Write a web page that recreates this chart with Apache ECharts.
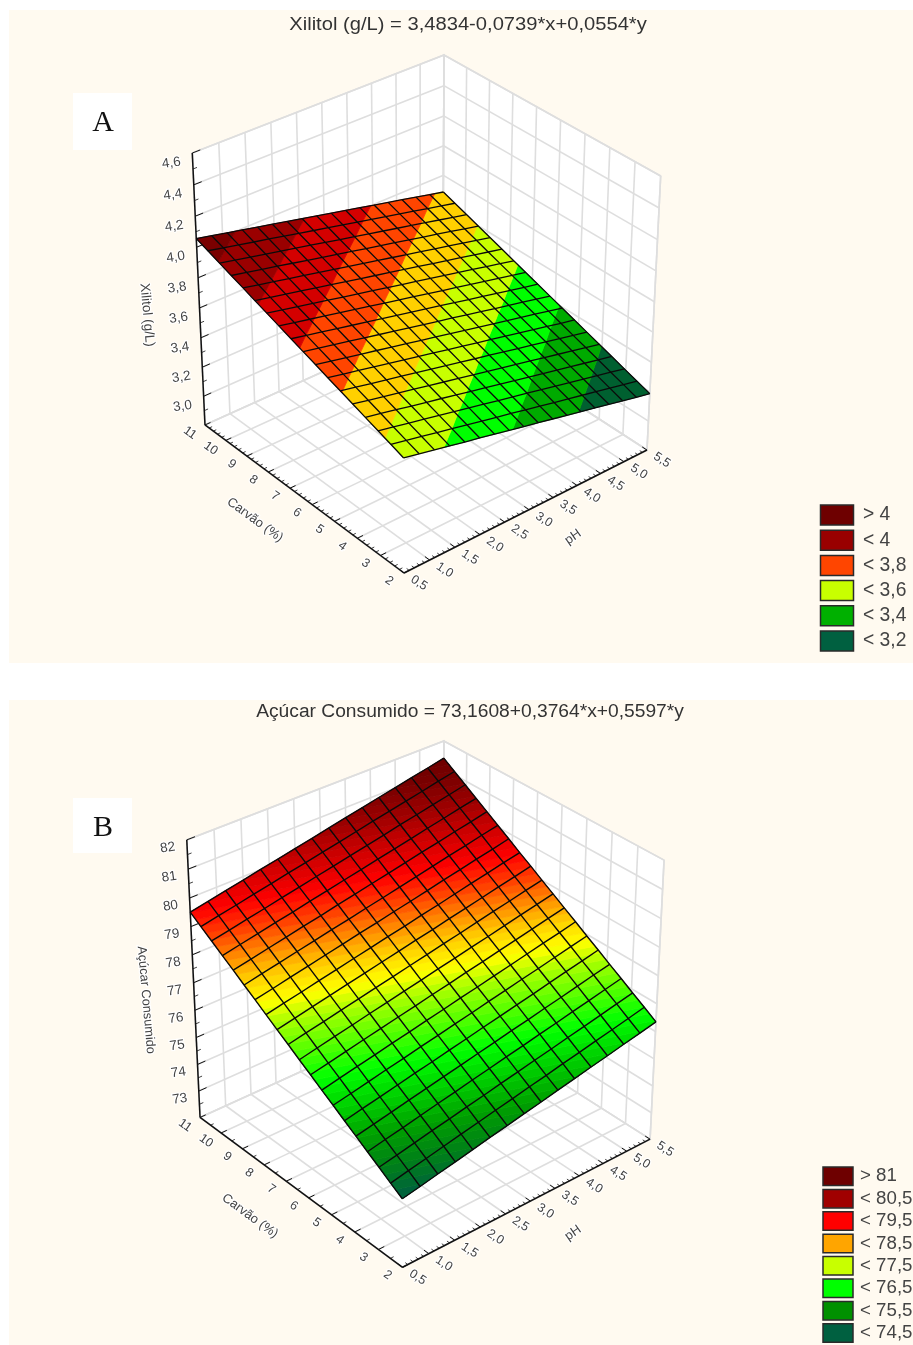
<!DOCTYPE html>
<html><head><meta charset="utf-8">
<style>html,body{margin:0;padding:0;background:#fff}#c{width:913px;height:1345px}</style>
<script src="https://cdn.jsdelivr.net/npm/echarts@6/dist/echarts.min.js"></script></head>
<body><div id="c"></div>
<script>
const phTicks=[0.5,1,1.5,2,2.5,3,3.5,4,4.5,5,5.5];
const carvaoTicks=[2,3,4,5,6,7,8,9,10,11];
const xilitolTicks=[3,3.2,3.4,3.6,3.8,4,4.2,4.4,4.6];
const acucarTicks=[73,74,75,76,77,78,79,80,81,82];
const xilitolLegendLabels=['> 4','< 4','< 3,8','< 3,6','< 3,4','< 3,2'];
const xilitolLegendColors=['#6e0000','#990000','#ff4500','#c8ff00','#00b000','#006040'];
const acucarLegendLabels=['> 81','< 80,5','< 79,5','< 78,5','< 77,5','< 76,5','< 75,5','< 74,5'];
const acucarLegendColors=['#6e0000','#a00000','#ff0000','#ffa500','#c8ff00','#00ff00','#009000','#006040'];
const xilitolBandEdges=[3.3,3.4,3.5,3.6,3.7,3.8,3.9,4.0];
const xilitolBandColors=['#006030','#00aa00','#00ff00','#c8ff00','#ffd000','#ff4500','#d40000','#9a0000','#7a0000'];
const acucarColorStops=[[74,'#005a40'],[74.5,'#006040'],[75,'#008018'],[75.5,'#00a000'],[76.5,'#00ff00'],[77.5,'#a8ff00'],[77.85,'#ffff00'],[78.26,'#ffd000'],[78.73,'#ff8000'],[79.08,'#ff4000'],[79.5,'#ff0000'],[80.5,'#a00000'],[81,'#7a0000'],[81.5,'#6a0000']];
// surface heights: rows run along carvão (2 to 11), columns along pH (0.5 to 5.5)
const xilitolGrid=[
[3.557,3.536,3.514,3.492,3.470,3.449,3.427,3.405,3.383,3.362,3.340,3.318,3.296,3.275,3.253,3.231,3.209,3.188],
[3.587,3.565,3.543,3.521,3.500,3.478,3.456,3.434,3.413,3.391,3.369,3.347,3.326,3.304,3.282,3.261,3.239,3.217],
[3.616,3.594,3.572,3.551,3.529,3.507,3.486,3.464,3.442,3.420,3.399,3.377,3.355,3.333,3.312,3.290,3.268,3.246],
[3.645,3.624,3.602,3.580,3.558,3.537,3.515,3.493,3.471,3.450,3.428,3.406,3.384,3.363,3.341,3.319,3.298,3.276],
[3.675,3.653,3.631,3.609,3.588,3.566,3.544,3.522,3.501,3.479,3.457,3.435,3.414,3.392,3.370,3.349,3.327,3.305],
[3.704,3.682,3.660,3.639,3.617,3.595,3.573,3.552,3.530,3.508,3.487,3.465,3.443,3.421,3.400,3.378,3.356,3.334],
[3.733,3.711,3.690,3.668,3.646,3.625,3.603,3.581,3.559,3.538,3.516,3.494,3.472,3.451,3.429,3.407,3.385,3.364],
[3.763,3.741,3.719,3.697,3.676,3.654,3.632,3.610,3.589,3.567,3.545,3.523,3.502,3.480,3.458,3.437,3.415,3.393],
[3.792,3.770,3.748,3.727,3.705,3.683,3.661,3.640,3.618,3.596,3.575,3.553,3.531,3.509,3.488,3.466,3.444,3.422],
[3.821,3.799,3.778,3.756,3.734,3.713,3.691,3.669,3.647,3.626,3.604,3.582,3.560,3.539,3.517,3.495,3.473,3.452],
[3.851,3.829,3.807,3.785,3.764,3.742,3.720,3.698,3.677,3.655,3.633,3.611,3.590,3.568,3.546,3.525,3.503,3.481],
[3.880,3.858,3.836,3.815,3.793,3.771,3.749,3.728,3.706,3.684,3.663,3.641,3.619,3.597,3.576,3.554,3.532,3.510],
[3.909,3.887,3.866,3.844,3.822,3.801,3.779,3.757,3.735,3.714,3.692,3.670,3.648,3.627,3.605,3.583,3.561,3.540],
[3.939,3.917,3.895,3.873,3.852,3.830,3.808,3.786,3.765,3.743,3.721,3.699,3.678,3.656,3.634,3.613,3.591,3.569],
[3.968,3.946,3.924,3.903,3.881,3.859,3.837,3.816,3.794,3.772,3.751,3.729,3.707,3.685,3.664,3.642,3.620,3.598],
[3.997,3.975,3.954,3.932,3.910,3.889,3.867,3.845,3.823,3.802,3.780,3.758,3.736,3.715,3.693,3.671,3.649,3.628],
[4.027,4.005,3.983,3.961,3.940,3.918,3.896,3.874,3.853,3.831,3.809,3.787,3.766,3.744,3.722,3.700,3.679,3.657],
[4.056,4.034,4.012,3.991,3.969,3.947,3.925,3.904,3.882,3.860,3.839,3.817,3.795,3.773,3.752,3.730,3.708,3.686]];
const acucarGrid=[
[74.47,74.59,74.72,74.84,74.97,75.10,75.22,75.35,75.47,75.60,75.72,75.85,75.97,76.10,76.22,76.35],
[74.73,74.86,74.98,75.11,75.24,75.36,75.49,75.61,75.74,75.86,75.99,76.11,76.24,76.36,76.49,76.62],
[75.00,75.12,75.25,75.38,75.50,75.63,75.75,75.88,76.00,76.13,76.25,76.38,76.50,76.63,76.76,76.88],
[75.26,75.39,75.51,75.64,75.77,75.89,76.02,76.14,76.27,76.39,76.52,76.64,76.77,76.89,77.02,77.15],
[75.53,75.65,75.78,75.91,76.03,76.16,76.28,76.41,76.53,76.66,76.78,76.91,77.03,77.16,77.29,77.41],
[75.79,75.92,76.04,76.17,76.30,76.42,76.55,76.67,76.80,76.92,77.05,77.17,77.30,77.43,77.55,77.68],
[76.06,76.18,76.31,76.44,76.56,76.69,76.81,76.94,77.06,77.19,77.31,77.44,77.56,77.69,77.82,77.94],
[76.32,76.45,76.58,76.70,76.83,76.95,77.08,77.20,77.33,77.45,77.58,77.70,77.83,77.96,78.08,78.21],
[76.59,76.71,76.84,76.97,77.09,77.22,77.34,77.47,77.59,77.72,77.84,77.97,78.09,78.22,78.35,78.47],
[76.85,76.98,77.11,77.23,77.36,77.48,77.61,77.73,77.86,77.98,78.11,78.23,78.36,78.49,78.61,78.74],
[77.12,77.25,77.37,77.50,77.62,77.75,77.87,78.00,78.12,78.25,78.37,78.50,78.63,78.75,78.88,79.00],
[77.38,77.51,77.64,77.76,77.89,78.01,78.14,78.26,78.39,78.51,78.64,78.76,78.89,79.02,79.14,79.27],
[77.65,77.78,77.90,78.03,78.15,78.28,78.40,78.53,78.65,78.78,78.90,79.03,79.16,79.28,79.41,79.53],
[77.92,78.04,78.17,78.29,78.42,78.54,78.67,78.79,78.92,79.04,79.17,79.30,79.42,79.55,79.67,79.80],
[78.18,78.31,78.43,78.56,78.68,78.81,78.93,79.06,79.18,79.31,79.43,79.56,79.69,79.81,79.94,80.06],
[78.45,78.57,78.70,78.82,78.95,79.07,79.20,79.32,79.45,79.57,79.70,79.83,79.95,80.08,80.20,80.33],
[78.71,78.84,78.96,79.09,79.21,79.34,79.46,79.59,79.71,79.84,79.96,80.09,80.22,80.34,80.47,80.59],
[78.98,79.10,79.23,79.35,79.48,79.60,79.73,79.85,79.98,80.10,80.23,80.36,80.48,80.61,80.73,80.86],
[79.24,79.37,79.49,79.62,79.74,79.87,79.99,80.12,80.24,80.37,80.50,80.62,80.75,80.87,81.00,81.12],
[79.51,79.63,79.76,79.88,80.01,80.13,80.26,80.38,80.51,80.64,80.76,80.89,81.01,81.14,81.26,81.39]];

function solve(A,b){const n=b.length;const M=A.map((r,i)=>r.concat(b[i]));
 for(let c=0;c<n;c++){let p=c;for(let r=c+1;r<n;r++)if(Math.abs(M[r][c])>Math.abs(M[p][c]))p=r;[M[c],M[p]]=[M[p],M[c]];
  for(let r=0;r<n;r++){if(r===c)continue;const f=M[r][c]/M[c][c];for(let k=c;k<=n;k++)M[r][k]-=f*M[c][k];}}
 return M.map((r,i)=>r[n]/r[i]);}
function makeCamera(pts){const rows=[],rhs=[];
 pts.forEach(([u,v,w,X,Y])=>{rows.push([1,u,v,w,0,0,0,0,-X*u,-X*v,-X*w]);rhs.push(X);rows.push([0,0,0,0,1,u,v,w,-Y*u,-Y*v,-Y*w]);rhs.push(Y);});
 const n=11,N=[],B=[];for(let a=0;a<n;a++){N.push([]);let s=0;for(let r=0;r<rows.length;r++)s+=rows[r][a]*rhs[r];B.push(s);for(let b=0;b<n;b++){let t=0;for(let r=0;r<rows.length;r++)t+=rows[r][a]*rows[r][b];N[a].push(t);}}
 const p=solve(N,B);
 return (u,v,w)=>{const d=1+p[8]*u+p[9]*v+p[10]*w;return [(p[0]+p[1]*u+p[2]*v+p[3]*w)/d,(p[4]+p[5]*u+p[6]*v+p[7]*w)/d];};}

const GREY='#dedede',INK='#444',SANS='"Liberation Sans",Arial,sans-serif';
const deg=d=>d*Math.PI/180;
function line(api,a,b,color,w){const p=api.coord(a),q=api.coord(b);return {type:'line',shape:{x1:p[0],y1:p[1],x2:q[0],y2:q[1]},style:{stroke:color,lineWidth:w,fill:null}};}
function label(api,pt,dx,dy,text,rot,size,halo){const p=api.coord(pt);return {type:'text',x:p[0]+dx,y:p[1]+dy,rotation:deg(rot),style:{text:text,x:0,y:0,align:'center',verticalAlign:'middle',font:size+'px '+SANS,fill:INK,stroke:halo?'#fff':null,lineWidth:halo?2.5:0}};}
const comma=(t)=>String(t).replace('.',',');

function panel(cfg){
 const cam=makeCamera(cfg.calib);
 const U=t=>(t-0.5)/5,V=t=>(t-2)/9,W=t=>(t-cfg.zMin)/(cfg.zMax-cfg.zMin);
 const Nv=cfg.grid.length-1,Nu=cfg.grid[0].length-1;
 const P3=(i,j,z)=>cam(i/Nu,j/Nv,W(z));
 const series=[];
 series.push({type:'custom',coordinateSystem:'cartesian2d',silent:true,animation:false,clip:false,z:2,data:[[0]],renderItem(p,api){
  const kids=[];
  const poly=(pts)=>({type:'polygon',shape:{points:pts.map(q=>api.coord(q))},style:{fill:'#fff',stroke:GREY,lineWidth:1.6}});
  kids.push(poly([cam(0,1,0),cam(1,1,0),cam(1,1,1),cam(0,1,1)]));
  kids.push(poly([cam(1,1,0),cam(1,0,0),cam(1,0,1),cam(1,1,1)]));
  kids.push(poly([cam(0,0,0),cam(1,0,0),cam(1,1,0),cam(0,1,0)]));
  phTicks.forEach(t=>{const u=U(t);kids.push(line(api,cam(u,1,0),cam(u,1,1),GREY,1.6));kids.push(line(api,cam(u,0,0),cam(u,1,0),GREY,1.6));});
  carvaoTicks.forEach(t=>{const v=V(t);kids.push(line(api,cam(1,v,0),cam(1,v,1),GREY,1.6));kids.push(line(api,cam(0,v,0),cam(1,v,0),GREY,1.6));});
  cfg.zTicks.forEach(t=>{const w=W(t);kids.push(line(api,cam(0,1,w),cam(1,1,w),GREY,1.6));kids.push(line(api,cam(1,1,w),cam(1,0,w),GREY,1.6));});
  return {type:'group',children:kids};
 }});
 series.push({type:'custom',coordinateSystem:'cartesian2d',silent:true,animation:false,clip:false,z:3,data:[[0]],renderItem(p,api){
  const kids=[],K='#111';
  kids.push(line(api,cam(0,1,0),cam(0,1,1),K,1.5));
  kids.push(line(api,cam(0,0,0),cam(0,1,0),K,1.5));
  kids.push(line(api,cam(0,0,0),cam(1,0,0),K,1.5));
  phTicks.forEach((t,k)=>{const u=U(t);kids.push(line(api,cam(u,0,0),cam(u,0.022,0),K,1));
   kids.push(label(api,cam(u,0,0),cfg.phOff[0],cfg.phOff[1],comma(t.toFixed(1)),-33,12.5,true));
   if(k<phTicks.length-1)for(let m=1;m<5;m++){const um=u+m*0.02;kids.push(line(api,cam(um,0,0),cam(um,0.012,0),K,0.8));}});
  carvaoTicks.forEach((t,k)=>{const v=V(t);kids.push(line(api,cam(0,v,0),cam(0.022,v,0),K,1));
   kids.push(label(api,cam(0,v,0),cfg.cOff[0],cfg.cOff[1],String(t),-35,12.5,true));
   if(k<carvaoTicks.length-1)for(let m=1;m<cfg.cMinor;m++){const vm=v+(m/cfg.cMinor)/9;kids.push(line(api,cam(0,vm,0),cam(0.012,vm,0),K,0.8));}});
  cfg.zTicks.forEach((t,k)=>{const w=W(t);kids.push(line(api,cam(0,1,w),cam(0.03,1,w),K,1));
   kids.push(label(api,cam(0,1,w),cfg.zOff[0],cfg.zOff[1],cfg.zFmt(t),8,13.5,true));
   const st=cfg.zTicks[1]-cfg.zTicks[0];const wm=W(t-st/2);if(wm>0)kids.push(line(api,cam(0,1,wm),cam(0.015,1,wm),K,0.8));});
  kids.push(label(api,[cfg.zTitle[0],cfg.zTitle[1]],0,0,cfg.zTitle[2],-85,cfg.zTitle[3],true));
  kids.push(label(api,[cfg.cTitle[0],cfg.cTitle[1]],0,0,'Carvão (%)',-36,13,true));
  kids.push(label(api,[cfg.phTitle[0],cfg.phTitle[1]],0,0,'pH',35,13,true));
  return {type:'group',children:kids};
 }});
 const cells=[];for(let j=0;j<Nv;j++)for(let i=0;i<Nu;i++)cells.push([i,j]);
 const clip=(poly,lim,above)=>{const out=[];for(let k=0;k<poly.length;k++){const a=poly[k],b=poly[(k+1)%poly.length];const ia=above?a[2]>=lim:a[2]<=lim,ib=above?b[2]>=lim:b[2]<=lim;
   if(ia)out.push(a);if(ia!==ib){const t=(lim-a[2])/(b[2]-a[2]);out.push([a[0]+t*(b[0]-a[0]),a[1]+t*(b[1]-a[1]),lim]);}}return out;};
 series.push({type:'custom',name:cfg.name,coordinateSystem:'cartesian2d',silent:true,animation:false,clip:false,z:4,data:cells,renderItem(p,api){
  const i=api.value(0),j=api.value(1),G=cfg.grid;
  const q=[[i,j,G[j][i]],[i+1,j,G[j][i+1]],[i+1,j+1,G[j+1][i+1]],[i,j+1,G[j+1][i]]];
  const kids=[];
  cfg.bands.forEach(b=>{let poly=clip(clip(q,b[0],true),b[1],false);if(poly.length<3)return;
   kids.push({type:'polygon',shape:{points:poly.map(v=>api.coord(P3(v[0],v[1],v[2])))},style:{fill:b[2],stroke:b[2],lineWidth:0.8}});});
  return {type:'group',children:kids};
 }});
 const meshLines=[];for(let k=0;k<=Nv;k++)meshLines.push([0,k]);for(let k=0;k<=Nu;k++)meshLines.push([1,k]);
 series.push({type:'custom',coordinateSystem:'cartesian2d',silent:true,animation:false,clip:false,z:5,data:meshLines,renderItem(p,api){
  const dir=api.value(0),k=api.value(1),G=cfg.grid,pts=[];
  const M=dir?Nv:Nu;
  for(let m=0;m<=M;m++){const i=dir?k:m,j=dir?m:k;pts.push(api.coord(P3(i,j,G[j][i])));}
  return {type:'polyline',shape:{points:pts},style:{stroke:'#0a0a0a',lineWidth:cfg.meshWidth,fill:null}};
 }});
 series.push({type:'custom',coordinateSystem:'cartesian2d',silent:true,animation:false,clip:false,z:6,data:cfg.legendLabels.map((_,k)=>[k]),renderItem(p,api){
  const k=api.value(0),L=cfg.legend,y=L.y+k*L.step,a=api.coord([L.x,y]),b=api.coord([L.x+L.w,y+L.h]);
  return {type:'group',children:[{type:'rect',shape:{x:a[0],y:a[1],width:b[0]-a[0],height:b[1]-a[1]},style:{fill:cfg.legendColors[k],stroke:'#2a2a2a',lineWidth:1.5}},
   {type:'text',x:L.tx,y:a[1]+L.h/2,style:{text:cfg.legendLabels[k],x:0,y:0,align:'left',verticalAlign:'middle',font:L.size+'px '+SANS,fill:INK}}]};
 }});
 return series;
}

const xBands=[];xilitolBandColors.forEach((c,k)=>xBands.push([k?xilitolBandEdges[k-1]:-1e9,k<xilitolBandEdges.length?xilitolBandEdges[k]:1e9,c]));
function hex(c){return [1,3,5].map(o=>parseInt(c.substr(o,2),16));}
function stopColor(z){const S=acucarColorStops;if(z<=S[0][0])return S[0][1];for(let k=1;k<S.length;k++)if(z<=S[k][0]){const t=(z-S[k-1][0])/(S[k][0]-S[k-1][0]),a=hex(S[k-1][1]),b=hex(S[k][1]);return 'rgb('+a.map((v,n)=>Math.round(v+t*(b[n]-v))).join(',')+')';}return S[S.length-1][1];}
const aBands=[];for(let z=74;z<82;z+=0.125)aBands.push([z,z+0.125,stopColor(z+0.0625)]);

const seriesA=panel({name:'Xilitol (g/L)',grid:xilitolGrid,meshWidth:1.3,zMin:2.8,zMax:4.6,zTicks:xilitolTicks,zFmt:t=>t.toFixed(1).replace('.',','),bands:xBands,
 calib:[[0,0,0,404,573],[1,0,0,647,450],[0,1,0,205,425],[0,1,1,192.3,153],[1,1,1,444,55],[1,0,1,660.7,176]],
 phOff:[15,10],cOff:[-15,8],zOff:[-21,10],cMinor:5,zTitle:[147,315,'Xilitol (g/L)',13.5],cTitle:[255,520],phTitle:[573,537],
 legendLabels:xilitolLegendLabels,legendColors:xilitolLegendColors,legend:{x:820.5,y:505,w:33,h:20,step:25.2,tx:863,size:19.3}});
const seriesB=panel({name:'Açúcar Consumido',grid:acucarGrid,meshWidth:1.4,zMin:72,zMax:82,zTicks:acucarTicks,zFmt:t=>String(t),bands:aBands,
 calib:[[0,0,0,402.7,1267.3],[1,0,0,650,1139.3],[0,1,0,200,1117.3],[0,1,1,186.7,840],[1,1,1,444,741],[1,0,1,664,860]],
 phOff:[15,10],cOff:[-15,8],zOff:[-19,8],cMinor:2,zTitle:[146,1000,'Açúcar Consumido',12.8],cTitle:[250,1216],phTitle:[573,1233],
 legendLabels:acucarLegendLabels,legendColors:acucarLegendColors,legend:{x:823,y:1167,w:30,h:18.5,step:22.4,tx:860,size:18.7}});

const CREAM='#fffaf0';
const chart=echarts.init(document.getElementById('c'),null,{renderer:'canvas'});
chart.setOption({animation:false,backgroundColor:'#fff',
 grid:{left:0,right:0,top:0,bottom:0},
 xAxis:{type:'value',min:0,max:913,show:false},yAxis:{type:'value',min:0,max:1345,inverse:true,show:false},
 graphic:[{type:'rect',z:0,shape:{x:9,y:10,width:904,height:653},style:{fill:CREAM}},
  {type:'rect',z:0,shape:{x:9,y:700,width:904,height:645},style:{fill:CREAM}},
  {type:'rect',z:1,shape:{x:73,y:93,width:59,height:57},style:{fill:'#fff'}},
  {type:'rect',z:1,shape:{x:73,y:798,width:59,height:55},style:{fill:'#fff'}},
  {type:'text',z:1,x:468,y:25.5,scaleX:1.12,style:{text:'Xilitol (g/L) = 3,4834-0,0739*x+0,0554*y',font:'18px '+SANS,fill:'#333',align:'center',verticalAlign:'middle'}},
  {type:'text',z:1,x:470,y:712.5,scaleX:1.067,style:{text:'Açúcar Consumido = 73,1608+0,3764*x+0,5597*y',font:'18px '+SANS,fill:'#333',align:'center',verticalAlign:'middle'}},
  {type:'text',z:1,x:103,y:123,style:{text:'A',font:'30px "Liberation Serif",serif',fill:'#111',align:'center',verticalAlign:'middle'}},
  {type:'text',z:1,x:103,y:828,style:{text:'B',font:'30px "Liberation Serif",serif',fill:'#111',align:'center',verticalAlign:'middle'}}],
 series:seriesA.concat(seriesB)});
</script></body></html>
